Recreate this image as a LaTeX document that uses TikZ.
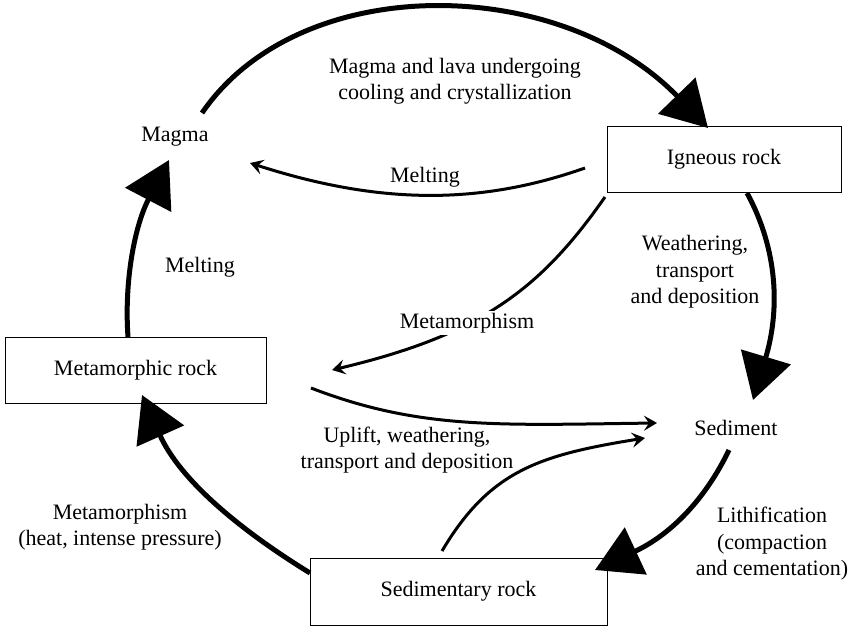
\documentclass[tikz,border=0pt]{standalone}
\usepackage{fontspec}
\setmainfont{Liberation Serif}
\usetikzlibrary{arrows.meta}
\begin{document}
\begin{tikzpicture}[x=1pt,y=-1pt,
  every node/.style={font=\fontsize{22}{26.5}\selectfont, align=center, inner sep=0pt},
  rockbox/.style={draw, line width=1pt, minimum height=66pt},
  bigarrow/.style={line width=5pt, -{Triangle[length=45pt,width=51pt]}},
  smallarrow/.style={line width=3pt, -{Stealth[length=13pt,width=15pt,inset=5pt]}}]
\useasboundingbox (0,0) rectangle (852,626);
% nodes
\node[rockbox, minimum width=234pt] (igneous) at (724,159) {Igneous rock};
\node[rockbox, minimum width=261pt] (metamorphic) at (135.5,370) {Metamorphic rock};
\node[rockbox, minimum width=297pt, minimum height=67pt] (sedimentary) at (458.5,591.5) {Sedimentary rock};
\node (magma) at (175,137) {Magma};
\node (sediment) at (736,428) {Sediment};
% endpoints
\coordinate (mgA) at (202,113);
\coordinate (igA) at (708,128);
\coordinate (igB) at (747,193);
\coordinate (sdA) at (753,400);
\coordinate (sdB) at (729,450);
\coordinate (srA) at (595,570);
\coordinate (srB) at (310,573);
\coordinate (mrA) at (142,395);
\coordinate (mrB) at (128,337);
\coordinate (mgB) at (169,160);
\coordinate (igC) at (585,168);
\coordinate (mgC) at (250,163);
\coordinate (igD) at (605,197);
\coordinate (mrC) at (332,370);
\coordinate (mrD) at (311,388);
\coordinate (sdC) at (657,423);
\coordinate (srC) at (442,551);
\coordinate (sdD) at (645,438);
% big arrows
\draw[bigarrow] (mgA) .. controls (300,-30) and (560,-25) .. (igA);
\draw[bigarrow] (igB) .. controls (778,250) and (780,310) .. (sdA);
\draw[bigarrow] (sdB) .. controls (705,500) and (670,535) .. (srA);
\draw[bigarrow] (srB) .. controls (240,530) and (180,480) .. (mrA);
\draw[bigarrow] (mrB) .. controls (124,280) and (135,225) .. (mgB);
% small arrows
\draw[smallarrow] (igC) .. controls (480,205) and (380,205) .. (mgC);
\draw[smallarrow] (igD) .. controls (540,290) and (480,335) .. (mrC);
\draw[smallarrow] (mrD) .. controls (420,430) and (500,425) .. (sdC);
\draw[smallarrow] (srC) .. controls (490,470) and (540,455) .. (sdD);
% labels
\node (l1) at (455,81) {Magma and lava undergoing\\cooling and crystallization};
\node (l2) at (425,177) {Melting};
\node (l3) at (200,267) {Melting};
\node[fill=white, inner sep=2pt] (l4) at (467,323) {Metamorphism};
\node (l5) at (695,272) {Weathering,\\transport\\and deposition};
\node (l6) at (407,450) {Uplift, weathering,\\transport and deposition};
\node (l7) at (772,544) {Lithification\\(compaction\\and cementation)};
\node (l8) at (120,527) {Metamorphism\\(heat, intense pressure)};
\end{tikzpicture}
\end{document}
